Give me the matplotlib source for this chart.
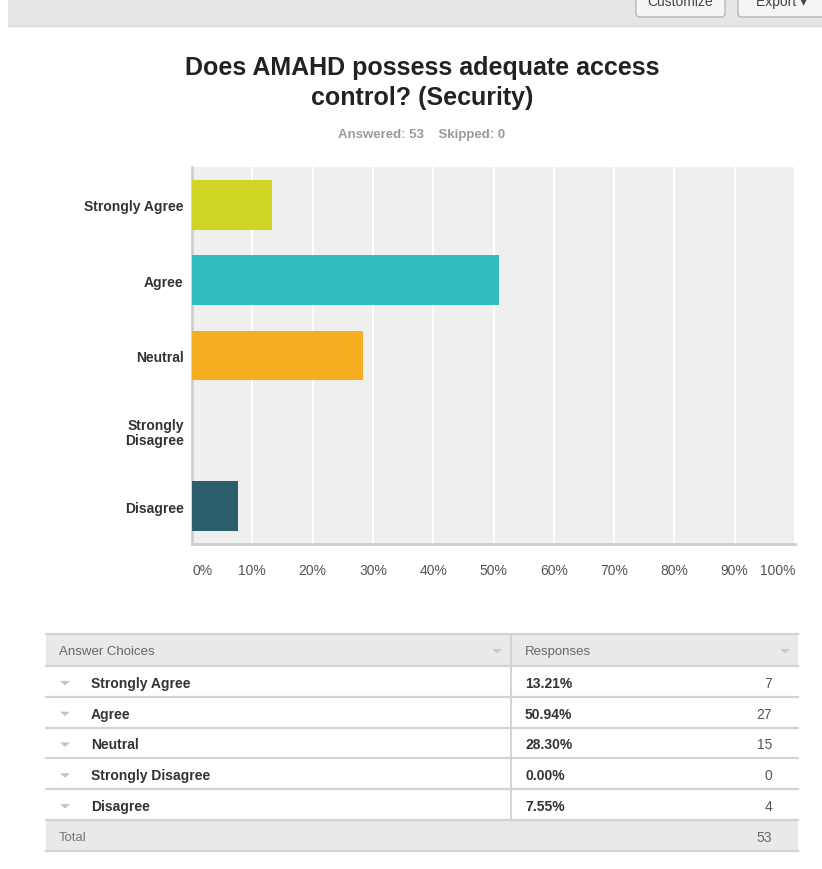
import matplotlib.pyplot as plt
from matplotlib.patches import Rectangle, Polygon, FancyBboxPatch

plt.rcParams['font.family'] = ['Liberation Sans', 'DejaVu Sans']

# survey answers
reponses = ['Strongly Agree', 'Agree', 'Neutral', 'Strongly Disagree', 'Disagree']
etiquettes_axe = ['Strongly Agree', 'Agree', 'Neutral', 'Strongly\nDisagree', 'Disagree']
pourcentages = [13.21, 50.94, 28.30, 0.00, 7.55]
nombres = [7, 27, 15, 0, 4]
total = 53
saute = 0
couleurs = ['#cfd425', '#32bdbe', '#f6ae20', '#8e5c9e', '#2c5f6b']
graduations = [0, 10, 20, 30, 40, 50, 60, 70, 80, 90, 100]

W, H = 822, 870
fig = plt.figure(figsize=(W / 100, H / 100), dpi=100)
fig.patch.set_facecolor('white')

# page layer in pixel coordinates
page = fig.add_axes([0, 0, 1, 1])
page.set_xlim(0, W)
page.set_ylim(H, 0)
page.axis('off')

# toolbar strip at the top
page.add_patch(Rectangle((8, 0), W - 8, 27, color='#e5e5e3', lw=0))
page.plot([8, W], [27, 27], color='#d9d9d7', lw=1)
for x0, x1, txt in [(636, 725, 'Customize'), (738, 826, 'Export \u25be')]:
    page.add_patch(FancyBboxPatch((x0, -10), x1 - x0, 28, boxstyle='round,pad=0,rounding_size=4',
                                  fc='#f5f5f4', ec='#b8b8b6', lw=1))
    page.text((x0 + x1) / 2, 2, txt, ha='center', va='center', fontsize=10, color='#444444')

# title and summary
page.text(422, 83, 'Does AMAHD possess adequate access\ncontrol? (Security)', ha='center', va='center',
          fontsize=18, fontweight='bold', color='#222222', linespacing=1.35)
page.text(422, 135, f'Answered: {total}    Skipped: {saute}', ha='center', va='center',
          fontsize=9.5, fontweight='bold', color='#9a9a9a')

# bar chart
ax = fig.add_axes([192 / W, 1 - 545 / H, 603 / W, 377 / H])
ax.set_facecolor('#efefef')
y = list(range(len(reponses)))
ax.barh(y, pourcentages, height=0.66, color=couleurs, zorder=3)
ax.set_xlim(0, 100)
ax.set_ylim(len(reponses) - 0.5, -0.5)
ax.set_xticks(graduations)
ax.set_xticklabels([f'{g}%' for g in graduations])
ax.set_yticks(y)
ax.set_yticklabels(etiquettes_axe, fontweight='bold', fontsize=10, color='#333333', linespacing=1.1)
ax.tick_params(axis='x', length=0, pad=14, labelsize=10, labelcolor='#555555')
ax.tick_params(axis='y', length=0, pad=6)
labels = ax.get_xticklabels()
labels[0].set_horizontalalignment('left')
labels[-1].set_horizontalalignment('right')
ax.grid(axis='x', color='white', lw=1.5, zorder=1)
ax.set_axisbelow(True)
for s in ['top', 'right']:
    ax.spines[s].set_visible(False)
for s in ['left', 'bottom']:
    ax.spines[s].set_color('#cfcfcf')
    ax.spines[s].set_linewidth(2)


def triangle(x, yc, couleur):
    page.add_patch(Polygon([(x - 5, yc - 2), (x + 5, yc - 2), (x, yc + 2.5)], closed=True,
                           fc=couleur, ec='none'))


# table below
gauche, droite, sep = 46, 798, 511
haut, h_entete, h_ligne = 635, 32, 30.8
lignes_y = [haut + h_entete + i * h_ligne for i in range(len(reponses) + 1)]
bas = lignes_y[-1] + h_ligne

page.add_patch(Rectangle((gauche, haut), droite - gauche, h_entete, color='#e9e9e9', lw=0))
page.add_patch(Rectangle((gauche, lignes_y[-1]), droite - gauche, h_ligne, color='#e9e9e9', lw=0))
for yl in [haut] + lignes_y + [bas]:
    page.plot([gauche, droite], [yl, yl], color='#d3d3d3', lw=1.6)
page.plot([sep, sep], [haut, lignes_y[-1]], color='#d3d3d3', lw=1.4)

yh = haut + h_entete / 2 + 1
page.text(59, yh, 'Answer Choices', va='center', fontsize=9.5, color='#666666')
page.text(525, yh, 'Responses', va='center', fontsize=9.5, color='#666666')
triangle(497, yh, '#c8c8c8')
triangle(785, yh, '#c8c8c8')

for i, nom in enumerate(reponses):
    yc = lignes_y[i] + h_ligne / 2 + 1.5
    triangle(65, yc, '#c4c4c4')
    page.text(91, yc, nom, va='center', fontsize=10, fontweight='bold', color='#333333')
    page.text(525, yc, f'{pourcentages[i]:.2f}%', va='center', fontsize=10, fontweight='bold',
              color='#333333')
    page.text(772, yc, str(nombres[i]), va='center', ha='right', fontsize=10, color='#555555')

yt = lignes_y[-1] + h_ligne / 2 + 1.5
page.text(59, yt, 'Total', va='center', fontsize=9.5, color='#777777')
page.text(772, yt, str(total), va='center', ha='right', fontsize=10, color='#666666')

fig.savefig('out.png', dpi=100)
